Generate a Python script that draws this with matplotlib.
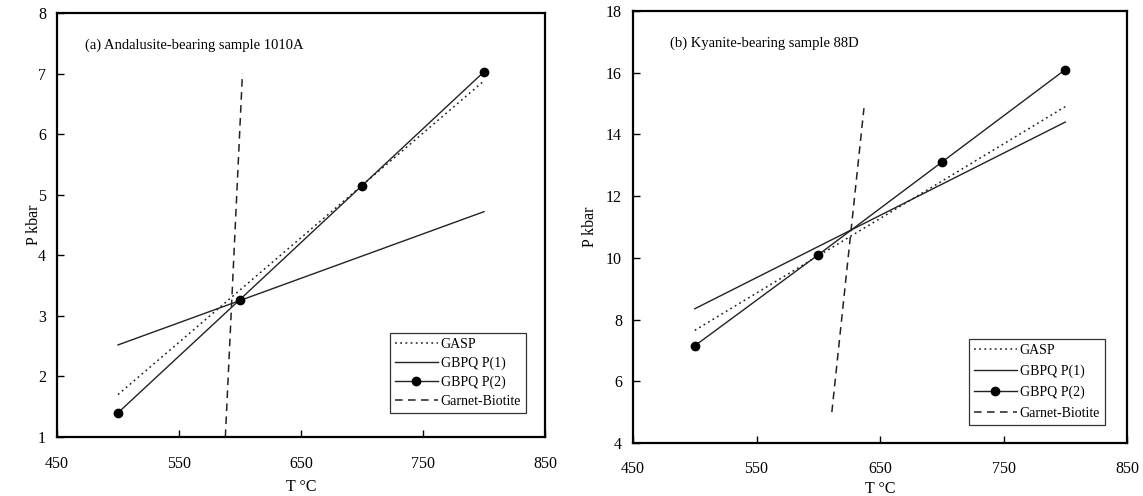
import matplotlib
matplotlib.use("Agg")
import matplotlib.pyplot as plt
from matplotlib.lines import Line2D

plt.rcParams['font.family'] = ['Liberation Serif', 'DejaVu Serif']

# Panel (a): Andalusite-bearing sample 1010A
a_title = "(a) Andalusite-bearing sample 1010A"
a_gasp_T = [500, 800]
a_gasp_P = [1.7, 6.88]
a_p1_T = [500, 800]
a_p1_P = [2.52, 4.72]
a_p2_T = [500, 600, 700, 800]
a_p2_P = [1.4, 3.27, 5.15, 7.03]
a_gb_T = [588, 602]
a_gb_P = [1.0, 7.0]
a_yticks = [1, 2, 3, 4, 5, 6, 7, 8]

# Panel (b): Kyanite-bearing sample 88D
b_title = "(b) Kyanite-bearing sample 88D"
b_gasp_T = [500, 800]
b_gasp_P = [7.65, 14.9]
b_p1_T = [500, 800]
b_p1_P = [8.35, 14.4]
b_p2_T = [500, 600, 700, 800]
b_p2_P = [7.15, 10.1, 13.1, 16.1]
b_gb_T = [611, 637]
b_gb_P = [5.0, 14.85]
b_yticks = [4, 6, 8, 10, 12, 14, 16, 18]

xticks = [450, 550, 650, 750, 850]
labels = ["GASP", "GBPQ P(1)", "GBPQ P(2)", "Garnet-Biotite"]

fig = plt.figure(figsize=(11.43, 4.96), dpi=100)
ax1 = fig.add_axes([57/1143, 1-437/496, 488/1143, 424/496])
ax2 = fig.add_axes([633/1143, 1-443/496, 494/1143, 432/496])

def draw(ax, gT, gP, p1T, p1P, p2T, p2P, gbT, gbP, yticks, title, tx, ty,
         leg_anchor, ylx, xpad, xlpad, lspace):
    c = '#222222'
    ax.plot(gT, gP, linestyle=(0, (1.2, 2.2)), color=c, lw=1.1)
    ax.plot(p1T, p1P, linestyle='-', color=c, lw=1.0)
    ax.plot(p2T, p2P, linestyle='-', color=c, lw=1.0, marker='o', markersize=6,
            markerfacecolor='black', markeredgecolor='black')
    ax.plot(gbT, gbP, linestyle=(0, (5, 3.5)), color=c, lw=1.1)
    ax.set_xlim(450, 850)
    ax.set_ylim(yticks[0], yticks[-1])
    ax.set_xticks(xticks)
    ax.set_yticks(yticks)
    ax.tick_params(direction='in', length=5, width=1, labelsize=11.5)
    ax.tick_params(axis='x', pad=xpad)
    ax.tick_params(axis='y', pad=8)
    for s in ax.spines.values():
        s.set_linewidth(1.6)
    ax.set_xlabel("T °C", fontsize=11.5, labelpad=xlpad)
    ax.set_ylabel("P kbar", fontsize=11.5)
    ax.yaxis.set_label_coords(ylx, 0.5)
    ax.text(tx, ty, title, transform=ax.transAxes, fontsize=10.5, va='center', ha='left')
    handles = [
        Line2D([], [], linestyle=(0, (1.2, 2.2)), color=c, lw=1.1),
        Line2D([], [], linestyle='-', color=c, lw=1.0),
        Line2D([], [], linestyle='-', color=c, lw=1.0, marker='o', markersize=6,
               markerfacecolor='black', markeredgecolor='black'),
        Line2D([], [], linestyle=(0, (5, 3.5)), color=c, lw=1.1),
    ]
    leg = ax.legend(handles, labels, loc='lower right', bbox_to_anchor=leg_anchor,
                    fontsize=10, frameon=True, fancybox=False, edgecolor='black',
                    handlelength=3.1, handletextpad=0.2, labelspacing=lspace,
                    borderpad=0.35, borderaxespad=0.0)
    leg.get_frame().set_linewidth(0.9)

draw(ax1, a_gasp_T, a_gasp_P, a_p1_T, a_p1_P, a_p2_T, a_p2_P, a_gb_T, a_gb_P,
     a_yticks, a_title, 0.057, 0.925, (0.961, 0.057), -0.031, 14, 5, 0.4)
draw(ax2, b_gasp_T, b_gasp_P, b_p1_T, b_p1_P, b_p2_T, b_p2_P, b_gb_T, b_gb_P,
     b_yticks, b_title, 0.075, 0.926, (0.955, 0.042), -0.071, 13, 3, 0.55)

fig.savefig("out.png", dpi=100)
